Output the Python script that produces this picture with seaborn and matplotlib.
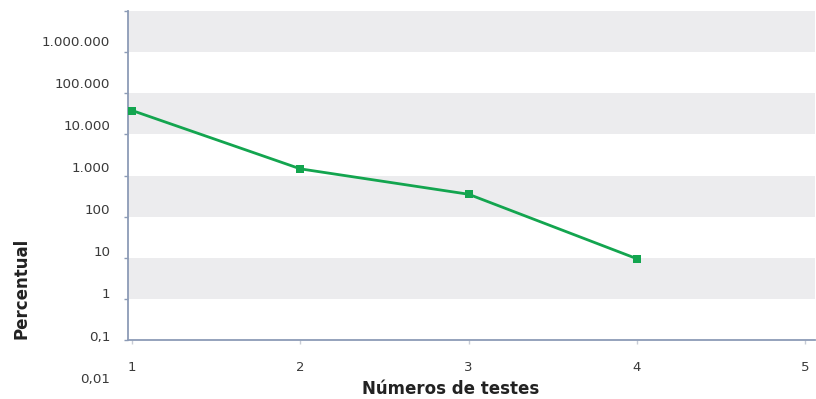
import numpy as np
import pandas as pd
import matplotlib
matplotlib.use('Agg')
import matplotlib.pyplot as plt
import matplotlib.transforms as mtransforms
import seaborn as sns

# Data
testes = [1, 2, 3, 4]
percentual = [38000, 1450, 350, 9.5]
x_ticks = [1, 2, 3, 4, 5]
y_labels = ['0,01', '0,1', '1', '10', '100', '1.000', '10.000', '100.000', '1.000.000']
y_label_exps = [-2, -1, 0, 1, 2, 3, 4, 5, 6]

df = pd.DataFrame({'testes': testes, 'percentual': percentual})

sns.set_style('white')
plt.rcParams['font.family'] = ['DejaVu Sans']

fig = plt.figure(figsize=(8.16, 3.99), dpi=100)
ax = fig.add_axes([128 / 816, 1 - 340 / 399, 687 / 816, 329 / 399])

# alternating grey / white bands per decade
for k in range(-1, 7):
    if (6 - k) % 2 == 0:
        ax.axhspan(10.0 ** k, 10.0 ** (k + 1), color='#ececee', lw=0, zorder=0)

sns.lineplot(data=df, x='testes', y='percentual', ax=ax, color='#13a54f',
             lw=2, marker='s', markersize=6, markeredgewidth=0, zorder=3,
             clip_on=False)

ax.set_yscale('log')
ax.set_ylim(0.1, 1e7)
ax.set_xlim(0.975, 5.06)

ax.set_yticks([10.0 ** k for k in range(-1, 8)])
ax.set_yticklabels([])
ax.minorticks_off()
ax.set_xticks(x_ticks)
ax.set_xticklabels([str(v) for v in x_ticks], color='#3a3a3a', fontsize=9.5)

axis_col = '#8c9bb6'
for s in ['top', 'right']:
    ax.spines[s].set_visible(False)
ax.spines['left'].set_color(axis_col)
ax.spines['bottom'].set_color(axis_col)
ax.spines['left'].set_linewidth(1.3)
ax.spines['bottom'].set_linewidth(1.3)
ax.tick_params(axis='y', length=3, width=1, color=axis_col, left=True, direction='out')
ax.tick_params(axis='x', length=3, width=1, color='#c8ccd6', bottom=True,
               direction='out', pad=12)

# y labels (Excel draws them slightly drifted from the tick marks)
trans = mtransforms.blended_transform_factory(ax.transAxes, ax.transData)
for lab, k in zip(y_labels, y_label_exps):
    pos = k + 0.07 + 0.025 * (k + 1)
    ax.text(-0.026, 10.0 ** pos, lab, transform=trans, ha='right', va='center',
            fontsize=9.7, color='#3a3a3a', clip_on=False)

ax.set_xlabel('')
ax.set_ylabel('')
fig.text(451 / 816, 1 - 389 / 399, 'Números de testes', ha='center', va='center',
         fontsize=12, fontweight='bold', color='#222222')
fig.text(22 / 816, 1 - 288 / 399, 'Percentual', ha='center', va='center',
         rotation=90, fontsize=12, fontweight='bold', color='#222222')

fig.savefig('out.png', dpi=100)
